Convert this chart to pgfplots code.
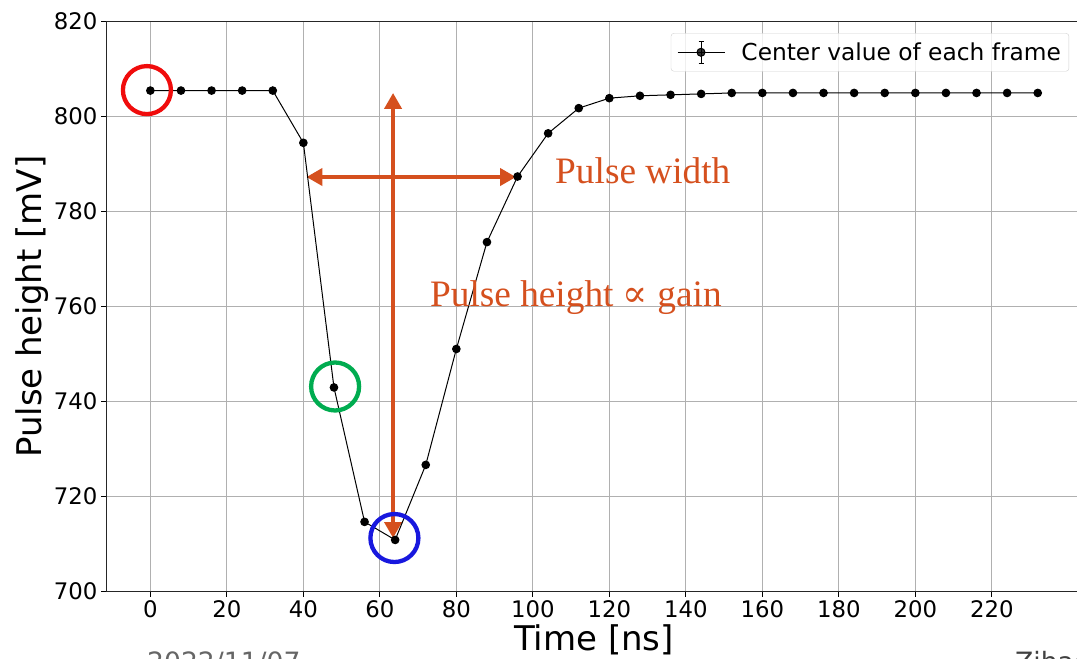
\documentclass[border=0pt]{standalone}
\usepackage{pgfplots}
\pgfplotsset{compat=1.18}
\usepackage{fontspec}
\setmainfont{DejaVu Sans}
\newfontfamily\serifann{Liberation Serif}
\newfontfamily\djserif{DejaVu Serif}
\usetikzlibrary{arrows.meta}
\definecolor{annor}{RGB}{213,80,30}
\definecolor{cred}{RGB}{240,12,12}
\definecolor{cgreen}{RGB}{0,172,80}
\definecolor{cblue}{RGB}{24,24,222}
\begin{document}
\begin{tikzpicture}
\begin{axis}[
  at={(106bp,67.3bp)}, anchor=south west,
  scale only axis, width=976.1bp, height=570bp,
  xmin=-11.6, xmax=243.6, ymin=700, ymax=820,
  xtick={0,20,...,220}, ytick={700,720,...,820},
  grid=major, grid style={color=black!31, line width=0.8bp},
  axis line style={line width=0.9bp, black!85},
  tick align=outside, tick pos=left, major tick length=5bp,
  every tick/.style={black, line width=0.9bp},
  ticklabel style={font=\fontsize{22.8bp}{26bp}\selectfont},
  /pgf/number format/assume math mode=true,
  /pgf/number format/1000 sep={},
  xlabel={Time [ns]}, ylabel={Pulse height [mV]},
  label style={font=\fontsize{34bp}{40bp}\selectfont},
  xlabel style={at={(axis description cs:0.5,0)}, anchor=center, yshift=-48.5bp},
  ylabel style={at={(axis description cs:0,0.5)}, anchor=center, yshift=74bp},
  legend style={at={(0.9867,0.980)}, anchor=north east, draw=black!18,
    rounded corners=3bp, fill=white, fill opacity=0.8, text opacity=1,
    font=\fontsize{23.3bp}{27bp}\selectfont, inner xsep=6bp, inner ysep=7bp,
    cells={anchor=west}},
  legend image code/.code={
    \path[draw=none, fill=none] (0bp,-12bp) rectangle (62bp,12bp);
    \draw[black, line width=1bp] (0bp,0bp) -- (47bp,0bp);
    \draw[black, line width=1bp] (23.5bp,-11bp) -- (23.5bp,11bp);
    \draw[black, line width=1bp] (21bp,11bp) -- (26bp,11bp);
    \draw[black, line width=1bp] (21bp,-11bp) -- (26bp,-11bp);
    \fill[black] (23.5bp,0bp) circle (4bp);
  },
]
% annotation arrows (drawn first, under the data)
\addplot[annor, line width=4bp, {Triangle[width=17bp,length=16bp]}-{Triangle[width=17bp,length=16bp]}, forget plot]
  coordinates {(40.8,787.3) (95.6,787.3)};
\addplot[annor, line width=4bp, {Triangle[width=17bp,length=16bp]}-{Triangle[width=17bp,length=16bp]}, forget plot]
  coordinates {(63.45,711.3) (63.45,805.0)};
% data
\addplot[black, line width=1bp, mark=*, mark size=3.8bp, mark options={solid, fill=black}]
  table {
x y
0 805.5
8 805.5
16 805.5
24 805.5
32 805.5
40 794.5
48 743.0
56 714.7
64 710.9
72 726.7
80 751.1
88 773.6
96 787.4
104 796.5
112 801.8
120 803.9
128 804.4
136 804.6
144 804.8
152 805.0
160 805.0
168 805.0
176 805.0
184 805.0
192 805.0
200 805.0
208 805.0
216 805.0
224 805.0
232 805.0
};
\addlegendentry{Center value of each frame}
% circles
\addplot[only marks, mark=o, mark size=24bp, mark options={draw=cred, line width=4.3bp}, forget plot]
  coordinates {(-0.9,805.6)};
\addplot[only marks, mark=o, mark size=24bp, mark options={draw=cgreen, line width=4.3bp}, forget plot]
  coordinates {(48.3,743.2)};
\addplot[only marks, mark=o, mark size=24bp, mark options={draw=cblue, line width=4.3bp}, forget plot]
  coordinates {(63.8,711.3)};
% texts
\node[anchor=base west, inner sep=0, text=annor, font=\serifann\fontsize{37.3bp}{42bp}\selectfont]
  at (axis cs:105.8,786.0) {Pulse width};
\node[anchor=base west, inner sep=0, text=annor, font=\serifann\fontsize{37.3bp}{42bp}\selectfont]
  at (axis cs:73.1,760.0) {Pulse height {\djserif ∝} gain};
\end{axis}
\node[anchor=base west, inner sep=0, text=black!60, font=\fontsize{26.6bp}{30bp}\selectfont] at (147bp,-12bp) {2022/11/07};
\node[anchor=base west, inner sep=0, text=black!75, font=\fontsize{26.6bp}{30bp}\selectfont] at (1015bp,-12bp) {Zihao};
\pgfresetboundingbox
\path[use as bounding box] (0,0) rectangle (1077bp,659bp);
\end{tikzpicture}
\end{document}
